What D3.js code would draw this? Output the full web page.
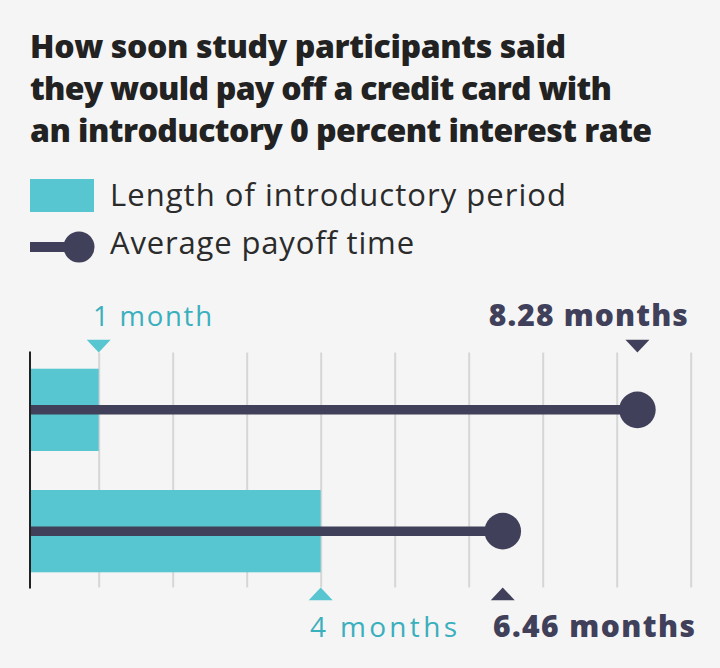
<!DOCTYPE html>
<html><head><meta charset="utf-8">
<script src="https://cdn.jsdelivr.net/npm/d3@7"></script>
<style>
html,body{margin:0;padding:0;background:#f5f5f5;}
svg{display:block;}
text{font-family:"Open Sans",Lato,sans-serif;}
</style></head>
<body>
<script>
const titleLines = ["How soon study participants said","they would pay off a credit card with","an introductory 0 percent interest rate"];
const legendLabels = ["Length of introductory period","Average payoff time"];
const categories = ["Group A","Group B"];
const introPeriod = [1, 4];
const payoffTime = [8.28, 6.46];
const introLabels = ["1 month","4 months"];
const payoffLabels = ["8.28 months","6.46 months"];
const gridTicks = [1,2,3,4,5,6,7,8,9];

const W=720,H=668;
const teal="#57c6d1", tealText="#3aafbd", navy="#40405a", grid="#d6d6d6";
const svg=d3.select("body").append("svg").attr("width",W).attr("height",H);
svg.append("rect").attr("width",W).attr("height",H).attr("fill","#f5f5f5");

// fit text width by letter-spacing
function fit(sel, target){
  sel.each(function(d,i){
    const t=d3.select(this);
    const n=this.textContent.length;
    const tw = typeof target==="function" ? target(d,i) : target;
    const len=this.getComputedTextLength();
    t.attr("letter-spacing", ((tw-len)/Math.max(1,n-1)).toFixed(2));
  });
}

// title
const titleW=[536,582,622];
svg.append("g").selectAll("text").data(titleLines).join("text")
  .attr("x",30).attr("y",(d,i)=>58+i*42)
  .attr("font-size",32).attr("font-weight",800).attr("fill","#222")
  .text(d=>d).call(fit,(d,i)=>titleW[i]);

// legend
svg.append("rect").attr("x",30).attr("y",179).attr("width",64).attr("height",33).attr("fill",teal);
svg.append("line").attr("x1",30).attr("x2",79).attr("y1",247).attr("y2",247).attr("stroke",navy).attr("stroke-width",10);
svg.append("circle").attr("cx",79).attr("cy",247).attr("r",15.5).attr("fill",navy);
const legW=[456,304];
svg.append("g").selectAll("text").data(legendLabels).join("text")
  .attr("x",110).attr("y",(d,i)=>206+i*48)
  .attr("font-size",31).attr("fill","#2b2b2b").text(d=>d).call(fit,(d,i)=>legW[i]);

// scales
const x=d3.scaleLinear().domain([0,9]).range([24.7,690.7]);
const y=d3.scaleBand().domain(categories).range([368.7,572.3]).paddingInner(0.3215).paddingOuter(0);
const gTop=352.5,gBot=587.5,axisX=30;

// grid via axis
const gridG=svg.append("g").attr("transform",`translate(0,${gBot})`)
  .call(d3.axisTop(x).tickValues(gridTicks).tickSize(gBot-gTop).tickFormat(""));
gridG.select(".domain").remove();
gridG.selectAll(".tick line").attr("stroke",grid).attr("stroke-width",2);

// bars
svg.append("g").selectAll("rect").data(categories).join("rect")
  .attr("x",axisX).attr("y",d=>y(d)).attr("height",y.bandwidth())
  .attr("width",(d,i)=>x(introPeriod[i])-axisX).attr("fill",teal);

// axis line
svg.append("line").attr("x1",axisX).attr("x2",axisX).attr("y1",gTop-1).attr("y2",gBot+1).attr("stroke","#222").attr("stroke-width",2);

// payoff lines and dots
const cy=(d)=>y(d)+y.bandwidth()/2;
svg.append("g").selectAll("line").data(categories).join("line")
  .attr("x1",axisX+1).attr("x2",(d,i)=>x(payoffTime[i])).attr("y1",cy).attr("y2",cy)
  .attr("stroke",navy).attr("stroke-width",9.5);
svg.append("g").selectAll("circle").data(categories).join("circle")
  .attr("cx",(d,i)=>x(payoffTime[i])).attr("cy",cy).attr("r",18.3).attr("fill",navy);

// markers
const tw=12,th=12.7;
function tri(cx,down){
  return down ? `M${cx-tw},${gTop-th}L${cx+tw},${gTop-th}L${cx},${gTop}Z`
              : `M${cx-tw},${gBot+th}L${cx+tw},${gBot+th}L${cx},${gBot}Z`;
}
svg.append("path").attr("d",tri(x(introPeriod[0]),true)).attr("fill",teal);
svg.append("path").attr("d",tri(x(payoffTime[0]),true)).attr("fill",navy);
svg.append("path").attr("d",tri(x(introPeriod[1]),false)).attr("fill",teal);
svg.append("path").attr("d",tri(x(payoffTime[1]),false)).attr("fill",navy);

svg.append("text").attr("x",93).attr("y",326).attr("font-size",27.5).attr("fill",tealText).text(introLabels[0]).call(fit,119);
svg.append("text").attr("x",689).attr("y",326).attr("text-anchor","end").attr("font-size",30).attr("font-weight",800).attr("fill",navy).text(payoffLabels[0]).call(fit,199);
svg.append("text").attr("x",310).attr("y",637).attr("font-size",28).attr("fill",tealText).text(introLabels[1]).call(fit,147);
svg.append("text").attr("x",493).attr("y",637).attr("font-size",30).attr("font-weight",800).attr("fill",navy).text(payoffLabels[1]).call(fit,202);
</script>
</body></html>
